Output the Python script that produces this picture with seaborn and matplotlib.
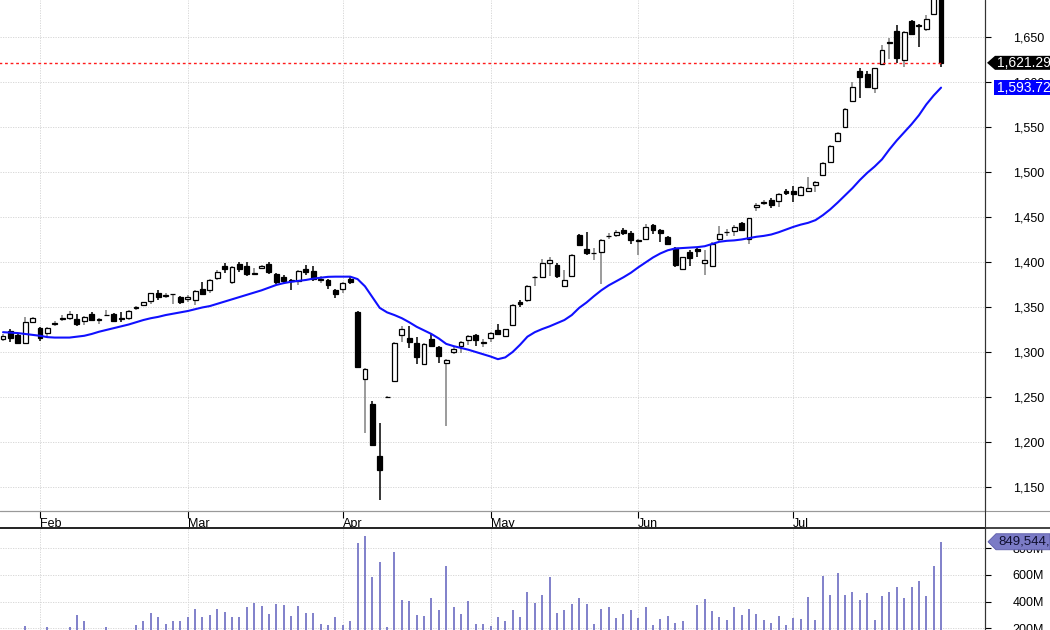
import numpy as np
import pandas as pd
import matplotlib.pyplot as plt
import matplotlib.transforms as mtransforms
from matplotlib.patches import Polygon, Rectangle
from matplotlib.lines import Line2D
import seaborn as sns

# daily OHLC (bar 0 = last days of January)
opens = [1314, 1323, 1319, 1310, 1333, 1327, 1321, 1331, 1337, 1338,
         1337, 1334, 1342, 1335, 1341, 1342, 1338, 1337.5, 1349, 1352,
         1357, 1366, 1362.5, 1364, 1361, 1358.5, 1358, 1370, 1369, 1382,
         1395, 1378, 1398, 1395, 1387, 1393, 1398, 1387, 1383, 1380,
         1379, 1392, 1390, 1380.5, 1380, 1369, 1370, 1381, 1344, 1270,
         1242, 1184, 1250, 1268, 1319, 1315, 1310, 1287, 1314, 1306,
         1288, 1300, 1307, 1313, 1319, 1310.5, 1316, 1324, 1318, 1330,
         1356, 1358, 1383, 1383, 1399, 1397, 1373, 1384, 1430, 1414,
         1410, 1411.5, 1428.5, 1430, 1435.5, 1432.5, 1423, 1426, 1441, 1435.5,
         1428, 1416, 1392, 1411.5, 1414, 1398.5, 1395, 1425.5, 1433, 1434,
         1443, 1426, 1461, 1466, 1469, 1468, 1479, 1479, 1474, 1479,
         1485, 1497, 1511.5, 1534.5, 1550, 1579, 1612.5, 1609, 1593, 1620,
         1643.5, 1657, 1624, 1668, 1663.5, 1658.5, 1676, 1700]
highs = [1320, 1325, 1320, 1339, 1339, 1328, 1328, 1334, 1341, 1345,
         1342, 1340, 1344, 1338, 1347, 1343, 1344, 1347, 1351, 1356,
         1366, 1369, 1366, 1364.5, 1362, 1363, 1369, 1378, 1381, 1391,
         1399, 1395, 1400, 1400, 1393, 1397, 1400, 1388, 1385, 1381,
         1391, 1397, 1396, 1384, 1381, 1370, 1378, 1383, 1345, 1282,
         1246, 1221, 1251, 1311, 1329, 1329, 1317, 1310, 1321, 1307,
         1292, 1305, 1312, 1319, 1320, 1314, 1322, 1331, 1326, 1353,
         1358, 1374, 1384, 1403, 1405, 1399, 1391, 1409, 1431, 1433,
         1416, 1425, 1432, 1435, 1437.5, 1434, 1425, 1442, 1442, 1437,
         1429, 1417, 1406, 1413, 1417, 1413, 1422, 1440, 1437, 1441,
         1444, 1449, 1466, 1469, 1471, 1477, 1481, 1484, 1484, 1494,
         1490, 1511, 1530, 1544, 1571, 1600, 1615, 1612, 1616, 1641,
         1648.5, 1663, 1657, 1669, 1664, 1674, 1700, 1705]
lows = [1312, 1311, 1309, 1309, 1332, 1312, 1317, 1329, 1334, 1335,
        1329, 1330, 1335, 1331, 1340.5, 1333, 1333, 1335, 1347, 1351,
        1353, 1358, 1360, 1353, 1353, 1356, 1352, 1363, 1365, 1380,
        1388, 1376, 1389, 1384, 1386.5, 1392, 1387, 1375, 1376, 1369,
        1374, 1385, 1379, 1377, 1370, 1360, 1365, 1375, 1282, 1210,
        1195, 1135, 1249.5, 1267, 1311, 1304, 1287, 1286, 1305, 1288,
        1218, 1298, 1299, 1308, 1307, 1306, 1311, 1319, 1317, 1329,
        1350, 1356, 1373, 1382, 1384, 1382, 1372, 1383, 1418, 1408,
        1402, 1376, 1425, 1428, 1430, 1420, 1408, 1425, 1431, 1422,
        1419, 1394, 1391, 1395, 1406, 1386, 1394, 1422, 1429, 1429,
        1434, 1420, 1457, 1463, 1460, 1461, 1474, 1467, 1473, 1478,
        1478, 1496, 1511, 1533, 1549, 1578, 1582, 1593, 1588, 1619,
        1626, 1621, 1617, 1652, 1639, 1657, 1675, 1617]
closes = [1318, 1316, 1310, 1333, 1338, 1316, 1327, 1332, 1337.5, 1342,
          1331, 1339, 1336, 1337, 1341.5, 1334.5, 1336.5, 1346, 1349.5, 1355,
          1365, 1361, 1363, 1364.5, 1356, 1361.5, 1368, 1364, 1380, 1389,
          1392, 1394, 1392, 1387, 1388, 1396, 1389, 1378, 1379, 1379,
          1390, 1388.5, 1381, 1381, 1374.5, 1364, 1377, 1377.5, 1283, 1281,
          1197, 1169, 1250.5, 1310, 1326, 1311, 1294, 1309, 1307, 1295,
          1291, 1303, 1311.5, 1318, 1313, 1311, 1321, 1320, 1325, 1352,
          1353, 1373, 1383.5, 1398.5, 1402, 1384, 1380, 1408, 1419, 1410,
          1410.5, 1424, 1429, 1433, 1432, 1424, 1424, 1438.5, 1435.5, 1432.5,
          1420, 1397, 1405, 1404, 1412, 1402, 1420.5, 1431, 1433.5, 1438.5,
          1435, 1448.5, 1463, 1466.5, 1463, 1476, 1476.5, 1475.5, 1483, 1482,
          1489, 1510, 1529, 1543, 1570, 1594, 1605, 1594, 1615, 1635,
          1644, 1627, 1656, 1653, 1662.5, 1670, 1695, 1621.29]
# moving average line as drawn on the chart
ma_line = [1322, 1321.5, 1321, 1320, 1319, 1318, 1316.5, 1316, 1316, 1316,
           1317, 1318, 1320, 1322.5, 1324.5, 1326.5, 1328.5, 1330.5, 1333, 1335.5,
           1337.5, 1339, 1341, 1342.5, 1344, 1345.5, 1347.5, 1349.5, 1351, 1353.5,
           1356, 1358.5, 1361, 1363.5, 1366, 1368.5, 1371.5, 1374.5, 1376.5, 1378,
           1379, 1380, 1381.5, 1382.5, 1383.5, 1383.7, 1383.7, 1383.7, 1381, 1373,
           1361, 1349, 1344, 1341, 1337.5, 1333, 1328, 1324, 1320, 1315,
           1309, 1306.5, 1304.5, 1302.5, 1300, 1297.5, 1295, 1292, 1294, 1300,
           1308, 1317, 1322, 1325.5, 1328.5, 1332, 1335.5, 1341, 1349, 1355,
           1362, 1368.5, 1374, 1378.5, 1383, 1388, 1394, 1399.5, 1405, 1409.5,
           1413, 1415, 1415.5, 1416, 1416.5, 1417.5, 1420, 1422.5, 1423.5, 1424,
           1425, 1426.5, 1428, 1429, 1430.5, 1433, 1436, 1439, 1441.5, 1443.5,
           1446.5, 1452, 1458.5, 1466, 1474, 1482, 1491, 1499, 1506, 1514,
           1525, 1535, 1544, 1553, 1563, 1575, 1585, 1593.72]
# volume in millions
volume_m = [150, 165, 160, 216, 172, 168, 207, 170, 178, 205,
            299, 254, 180, 176, 205, 172, 182, 178, 224, 250,
            312, 287, 232, 250, 254, 280, 347, 282, 300, 345,
            325, 282, 282, 362, 392, 367, 307, 382, 375, 292,
            367, 317, 317, 232, 224, 287, 224, 254, 839, 894,
            581, 694, 205, 769, 412, 404, 299, 292, 424, 337,
            668, 362, 305, 404, 229, 229, 216, 287, 250, 337,
            280, 468, 387, 450, 583, 312, 337, 380, 424, 380,
            229, 345, 362, 275, 305, 337, 275, 357, 224, 267,
            292, 237, 257, 180, 375, 419, 330, 282, 262, 357,
            299, 342, 305, 262, 237, 292, 224, 275, 267, 437,
            262, 593, 450, 618, 450, 475, 412, 462, 262, 442,
            475, 508, 424, 513, 558, 442, 668, 849.544512]

month_labels = ['Feb', 'Mar', 'Apr', 'May', 'Jun', 'Jul']
month_first_bar = [5, 25, 46, 66, 86, 107]
price_ticks = [1150, 1200, 1250, 1300, 1350, 1400, 1450, 1500, 1550, 1600, 1650]
volume_ticks = [200, 400, 600, 800]
last_close = 1621.29
last_ma = 1593.72
last_volume = 849544512

df = pd.DataFrame({'open': opens, 'high': highs, 'low': lows,
                   'close': closes, 'ma': ma_line, 'volume': volume_m})
df['bar'] = np.arange(len(df))
up = df.close >= df.open

sns.set_style('white')
plt.rcParams['font.family'] = ['Liberation Sans', 'DejaVu Sans']

W, H = 1050, 630
fig = plt.figure(figsize=(W / 100, H / 100), dpi=100)
ax = fig.add_axes([0, 1 - 511 / H, 985 / W, 511 / H])
axv = fig.add_axes([0, 0, 985 / W, 102 / H], sharex=ax)

grid_kw = dict(color='#d2d2d2', linestyle=(0, (1.5, 1.5)), linewidth=0.6)

# ---- price panel
ax.vlines(df.bar[up], df.low[up], df.high[up], colors='#808080', linewidth=1.1, zorder=2)
ax.vlines(df.bar[~up], df.low[~up], df.high[~up], colors='black', linewidth=1.1, zorder=2)
body_h = (df.close - df.open).abs().clip(lower=0.3)
body_lo = df[['open', 'close']].min(axis=1)
ax.bar(df.bar[up], body_h[up], bottom=body_lo[up], width=0.66,
       color='white', edgecolor='black', linewidth=0.9, zorder=3)
ax.bar(df.bar[~up], body_h[~up], bottom=body_lo[~up], width=0.66,
       color='black', edgecolor='black', linewidth=0.9, zorder=3)
sns.lineplot(data=df, x='bar', y='ma', ax=ax, color='#1010ff', linewidth=1.5, zorder=4)
ax.hlines(last_close, -0.5, df.bar.iloc[-1] + 0.3, colors='#ff1a1a',
          linestyles=(0, (2, 2)), linewidth=1.0, zorder=4)

ax.set_xlim(-0.41, 132.95)
ax.set_ylim(1123.3, 1691.1)
ax.set_yticks(price_ticks)
ax.set_yticklabels([f'{v:,}' for v in price_ticks])
ax.yaxis.tick_right()
ax.set_xticks(month_first_bar)
ax.set_xticklabels(month_labels, ha='left')
ax.grid(True, **grid_kw)
ax.set_xlabel('')
ax.set_ylabel('')
ax.tick_params(axis='y', direction='out', length=4, width=0.8, pad=16, labelsize=9,
               colors='black', right=True)
ax.tick_params(axis='x', direction='out', length=5, width=0.8, pad=0, labelsize=9,
               colors='black', bottom=True)
for s in ['left', 'top']:
    ax.spines[s].set_visible(False)
ax.spines['right'].set_color('#333333')
ax.spines['bottom'].set_color('#999999')
ax.spines['bottom'].set_linewidth(0.8)

# ---- volume panel
axv.vlines(df.bar, 0, df.volume, colors='#7676c6', linewidth=1.3)
axv.set_ylim(186, 953)
axv.set_yticks(volume_ticks)
axv.set_yticklabels([f'{v}M' for v in volume_ticks])
axv.yaxis.tick_right()
axv.grid(True, **grid_kw)
axv.tick_params(axis='y', direction='out', length=4, width=0.8, pad=16, labelsize=9,
                colors='black', right=True)
axv.tick_params(axis='x', bottom=False, labelbottom=False)
axv.set_xlabel('')
axv.set_ylabel('')
for s in ['left', 'bottom']:
    axv.spines[s].set_visible(False)
axv.spines['top'].set_color('#222222')
axv.spines['top'].set_linewidth(1.2)
axv.spines['right'].set_color('#333333')

# separators running the full width
fig.add_artist(Line2D([0, 1], [1 - 511 / H] * 2, color='#999999', linewidth=0.8))
fig.add_artist(Line2D([0, 1], [102 / H] * 2, color='#222222', linewidth=1.2))
fig.add_artist(Line2D([985 / W] * 2, [0, 1], color='#333333', linewidth=0.8))

# ---- value tags on the right
tr = mtransforms.blended_transform_factory(fig.transFigure, ax.transData)
ppx = (1691.1 - 1123.3) / 511
c = last_close
ax.add_patch(Polygon([(987 / W, c), (995 / W, c + 7 * ppx), (1, c + 7 * ppx),
                      (1, c - 7 * ppx), (995 / W, c - 7 * ppx)],
                     closed=True, facecolor='black', edgecolor='none',
                     transform=tr, clip_on=False, zorder=10))
ax.text(997 / W, c, f'{last_close:,.2f}', transform=tr, color='white', fontsize=10,
        va='center', ha='left', clip_on=False, zorder=11)
m = last_ma
ax.add_patch(Rectangle((994 / W, m - 7.5 * ppx), 56 / W, 15 * ppx, facecolor='#0000ff',
                       edgecolor='none', transform=tr, clip_on=False, zorder=10))
ax.text(997 / W, m, f'{last_ma:,.2f}', transform=tr, color='white', fontsize=10,
        va='center', ha='left', clip_on=False, zorder=11)

trv = mtransforms.blended_transform_factory(fig.transFigure, axv.transData)
vpx = (953 - 186) / 102
v = last_volume / 1e6
axv.add_patch(Polygon([(988 / W, v), (996 / W, v + 8 * vpx), (1, v + 8 * vpx),
                       (1, v - 8 * vpx), (996 / W, v - 8 * vpx)],
                      closed=True, facecolor='#7b7bc6', edgecolor='#5a5aa8', linewidth=0.6,
                      transform=trv, clip_on=False, zorder=10))
axv.text(998 / W, v, f'{last_volume:,}', transform=trv, color='#101030', fontsize=9.5,
         va='center', ha='left', clip_on=False, zorder=11)

plt.savefig('out.png', dpi=100)
